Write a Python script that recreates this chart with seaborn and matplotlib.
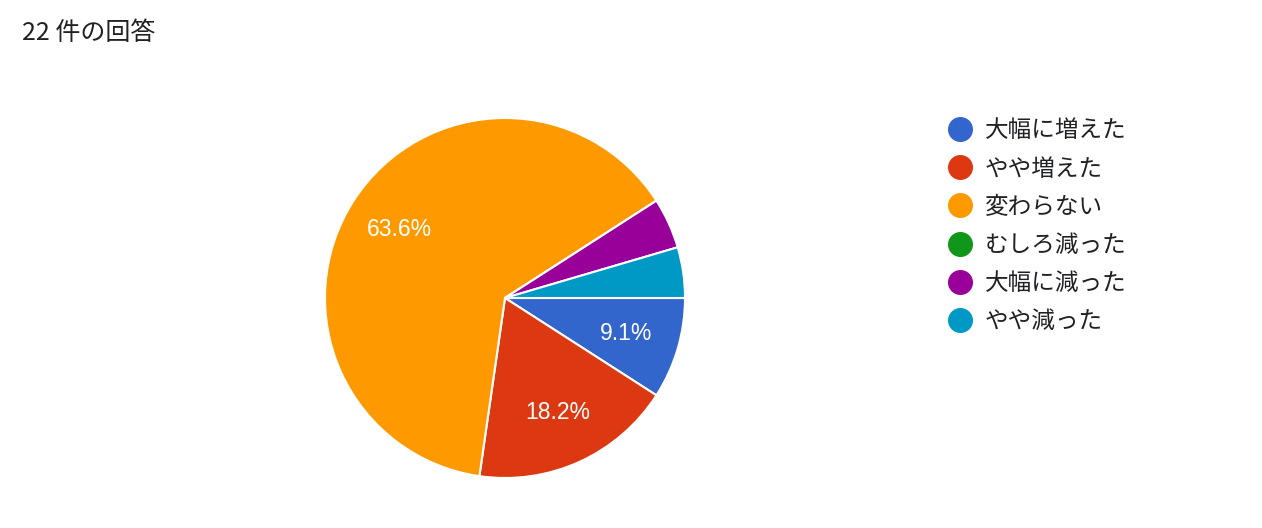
import matplotlib
matplotlib.use("Agg")
import matplotlib.pyplot as plt
from matplotlib.lines import Line2D
import seaborn as sns

# データ (22 件の回答)
categories = ["大幅に増えた", "やや増えた", "変わらない", "むしろ減った", "大幅に減った", "やや減った"]
counts = [2, 4, 14, 0, 1, 1]
colors = ["#3366cc", "#dc3912", "#ff9900", "#109618", "#990099", "#0099c6"]
title = "22 件の回答"

sns.set_theme(style="white")
plt.rcParams['font.family'] = ['Noto Sans CJK JP', 'DejaVu Sans']

fig = plt.figure(figsize=(12.62, 5.28), dpi=100)
fig.patch.set_facecolor("white")

# 円グラフの位置 (中心 505,298 px / 半径 180 px)
ax = fig.add_axes([325 / 1262, 50 / 528, 360 / 1262, 360 / 528])

def pct(p):
    # 小さい扇形にはラベルを付けない
    return f"{p:.1f}%" if p >= 5 else ""

wedges, texts, autotexts = ax.pie(
    counts, colors=sns.color_palette(colors), startangle=0, counterclock=False,
    autopct=pct, pctdistance=0.7,
    wedgeprops=dict(edgecolor="white", linewidth=1.5),
    textprops=dict(color="white", fontsize=16.5, family=['Liberation Sans', 'DejaVu Sans']),
)
ax.set_xlim(-1, 1)
ax.set_ylim(-1, 1)
ax.set_aspect("equal")
ax.axis("off")

fig.text(22 / 1262, 1 - 33 / 528, title, fontsize=18, va="center", ha="left", color="#202124")

handles = [Line2D([0], [0], marker="o", linestyle="", markersize=17,
                  markerfacecolor=c, markeredgecolor=c) for c in colors]
leg = fig.legend(handles, categories, loc="upper left",
                 bbox_to_anchor=(936 / 1262, 1 - 110 / 528), frameon=False,
                 fontsize=17, labelspacing=0.64, handletextpad=0.47,
                 handlelength=1.2, borderaxespad=0)
for t in leg.get_texts():
    t.set_color("#202124")

plt.savefig("out.png", dpi=100, facecolor="white")
